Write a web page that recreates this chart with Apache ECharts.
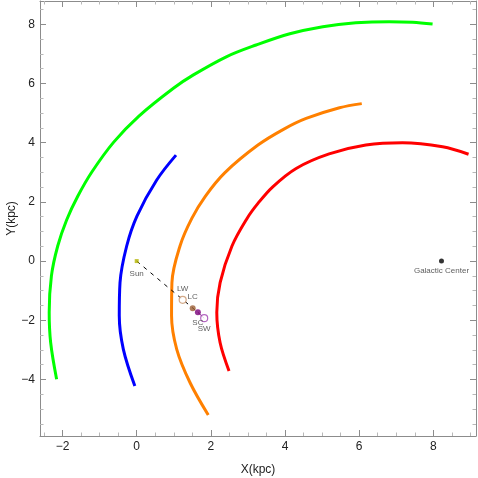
<!DOCTYPE html>
<html>
<head>
<meta charset="utf-8">
<script src="https://cdn.jsdelivr.net/npm/echarts@6/dist/echarts.min.js"></script>
<style>
  html, body { margin: 0; padding: 0; background: #fff; }
  #chart { width: 478px; height: 478px; }
</style>
</head>
<body>
<div id="chart"></div>
<script>
// spiral arm traces, [x, y] in kpc
var greenArm = [
  [-2.16, -3.99], [-2.32, -2.76], [-2.36, -1.74], [-2.30, -0.50], [-2.13, 0.51],
  [-1.89, 1.39], [-1.59, 2.19], [-1.21, 3.01], [-0.62, 4.02], [0.06, 4.90],
  [0.99, 5.84], [1.53, 6.29], [2.43, 6.91], [3.22, 7.30], [4.13, 7.68],
  [5.02, 7.92], [5.91, 8.05], [6.81, 8.09], [7.44, 8.07], [7.98, 8.01]
];
var blueArm = [
  [-0.05, -4.22], [-0.36, -2.98], [-0.47, -1.85], [-0.45, -0.73], [-0.27, 0.51],
  [0.01, 1.53], [0.54, 2.74], [1.06, 3.58]
];
var orangeArm = [
  [1.93, -5.20], [1.44, -4.11], [1.08, -2.98], [0.94, -1.85], [0.95, -0.73],
  [1.17, 0.52], [1.49, 1.45], [1.85, 2.19], [2.38, 2.99], [3.27, 3.92],
  [3.97, 4.46], [4.57, 4.82], [5.47, 5.18], [6.07, 5.32]
];
var redArm = [
  [2.49, -3.71], [2.25, -2.76], [2.16, -1.74], [2.25, -0.73], [2.57, 0.51],
  [2.98, 1.45], [3.27, 1.95], [3.67, 2.51], [4.30, 3.13], [5.19, 3.62],
  [6.18, 3.92], [7.17, 4.00], [8.25, 3.86], [8.95, 3.61]
];

// marked objects
var pointNames = ['Sun', 'LW', 'LC', 'SC', 'SW', 'Galactic Center'];
var pointX = [0, 1.24, 1.51, 1.65, 1.82, 8.22];
var pointY = [0, -1.31, -1.59, -1.73, -1.93, 0];

var xTicks = [-2, 0, 2, 4, 6, 8];
var yTicks = [-4, -2, 0, 2, 4, 6, 8];
var xMinor = [], yMinor = [];
for (var v = -2.5; v <= 9; v += 0.5) { if (xTicks.indexOf(v) < 0) xMinor.push(v); }
for (var w = -5.5; w <= 8.5; w += 0.5) { if (yTicks.indexOf(w) < 0) yMinor.push(w); }

var frameColor = '#8c8c8c';
var fmt = function (val) { return String(val).replace('-', '\u2212'); };

function makeAxis(pos, major, ticks, len, color, label, name) {
  var isX = pos === 'bottom' || pos === 'top';
  var ax = {
    type: 'value',
    position: pos,
    offset: 0,
    min: isX ? -2.608 : -5.909,
    max: isX ? 9.151 : 8.787,
    splitLine: { show: false },
    axisLine: { show: major, onZero: false, lineStyle: { color: frameColor, width: 1 } },
    axisTick: { show: true, inside: true, length: len, customValues: ticks, lineStyle: { color: color } },
    axisLabel: {
      show: label,
      customValues: ticks,
      formatter: fmt,
      color: '#222',
      fontSize: 12,
      fontFamily: 'Liberation Sans, Arial, sans-serif',
      margin: 5
    }
  };
  if (name) {
    ax.name = name;
    ax.nameLocation = 'middle';
    ax.nameMoveOverlap = false;
    ax.nameGap = isX ? 28 : 22;
    ax.nameTextStyle = { color: '#222', fontSize: 12, fontFamily: 'Liberation Sans, Arial, sans-serif' };
  }
  return ax;
}

var chart = echarts.init(document.getElementById('chart'), null, { renderer: 'canvas' });

var labelFont = { fontSize: 8, color: '#333', fontFamily: 'Liberation Sans, Arial, sans-serif' };
function pointItem(i, symbol, size, color, pos, filled, dist) {
  return {
    name: pointNames[i],
    value: [pointX[i], pointY[i]],
    symbol: symbol,
    symbolSize: size,
    itemStyle: filled ? { color: color } : { color: '#fff', borderColor: color, borderWidth: 1.2 },
    label: Object.assign({ show: true, position: pos, distance: dist, formatter: '{b}' }, labelFont)
  };
}

function armSeries(data, color) {
  return {
    type: 'line',
    data: data,
    smooth: 0.35,
    showSymbol: false,
    silent: true,
    lineStyle: { color: color, width: 3 },
    z: 2
  };
}

var option = {
  animation: false,
  backgroundColor: '#fff',
  grid: { left: 40, right: 2, top: 1, bottom: 42, containLabel: false, outerBoundsMode: 'none' },
  xAxis: [
    makeAxis('bottom', true, xTicks, 6, frameColor, true, 'X(kpc)'),
    makeAxis('bottom', false, xMinor, 3.5, '#b8b8b8', false),
    makeAxis('top', true, xTicks, 6, frameColor, false),
    makeAxis('top', false, xMinor, 3.5, '#b8b8b8', false)
  ],
  yAxis: [
    makeAxis('left', true, yTicks, 6, frameColor, true, 'Y(kpc)'),
    makeAxis('left', false, yMinor, 3.5, '#b8b8b8', false),
    makeAxis('right', true, yTicks, 6, frameColor, false),
    makeAxis('right', false, yMinor, 3.5, '#b8b8b8', false)
  ],
  series: [
    armSeries(greenArm, '#00ff00'),
    armSeries(blueArm, '#0000ff'),
    armSeries(orangeArm, '#ff8000'),
    armSeries(redArm, '#ff0000'),
    {
      type: 'line',
      data: [[pointX[0], pointY[0]], [pointX[3], pointY[3]]],
      showSymbol: false,
      silent: true,
      lineStyle: { color: '#000', width: 1, type: [4, 5] },
      z: 3
    },
    {
      type: 'line',
      data: [[pointX[3], pointY[3]], [pointX[4], pointY[4]]],
      showSymbol: false,
      silent: true,
      lineStyle: { color: '#8a2a8a', width: 1 },
      z: 3
    },
    {
      type: 'scatter',
      z: 4,
      data: [
        pointItem(0, 'rect', 4, '#b4b400', 'bottom', true, 7),
        pointItem(1, 'circle', 7, '#c8946a', 'top', false, 3),
        pointItem(2, 'circle', 6, '#9c5e34', 'top', true, 4),
        pointItem(3, 'circle', 6, '#780078', 'bottom', true, 3),
        pointItem(4, 'circle', 7, '#a040b0', 'bottom', false, 2),
        pointItem(5, 'circle', 5, '#000000', 'bottom', true, 3)
      ]
    }
  ]
};

chart.setOption(option);
</script>
</body>
</html>
